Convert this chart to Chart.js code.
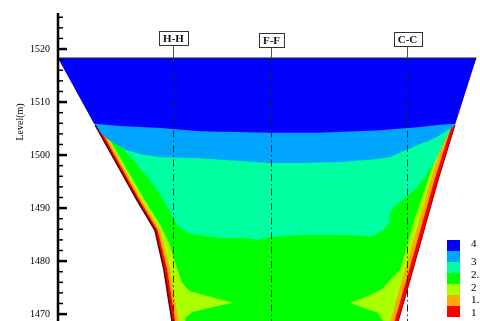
<!DOCTYPE html>
<html>
<head>
<meta charset="utf-8">
<style>
  html, body { margin: 0; padding: 0; background: #fff; }
  canvas { display: block; }
</style>
<script src="https://cdn.jsdelivr.net/npm/chart.js@4/dist/chart.umd.min.js"></script>
</head>
<body>
<canvas id="chart" width="480" height="321"></canvas>
<script>
// level axis (m)
const levelTicks = [1470, 1480, 1490, 1500, 1510, 1520];
const levelMin = 1468.7;
const levelMax = 1526.8;
const xMax = 79.6; // horizontal distance across the section (m)

// reservoir water surface
const waterLevel = 1518.3;

// cross sections shown on the profile
const sectionNames = ['H-H', 'F-F', 'C-C'];
const sectionX = [21.7, 40.2, 65.8];

// contour legend
const legendValues = ['4', '3', '2.5', '2', '1.5', '1'];
const bandColors = ['#0000ff', '#00a5ff', '#00ffa0', '#00ff00', '#aaff00', '#ffaa00', '#ff0000'];

// band outlines, each one painted under the band listed after it
// valley (red band, full section)
const redX = [0, 7.0, 14.9, 18.3, 20.0, 21.5, 21.9, 63.4, 64.2, 66.4, 71.7, 74.9, 78.9];
const redLevel = [1518.3, 1505.7, 1491.5, 1485.8, 1478.3, 1468.7, 1466.0, 1466.0, 1468.7, 1476.4, 1495.3, 1505.7, 1518.3];

const orangeX = [0.6, 7.5, 15.4, 18.8, 20.6, 22.1, 22.5, 62.7, 63.5, 65.7, 71.0, 74.3, 78.3];
const orangeLevel = redLevel;

const yellowX = [1.0, 7.9, 15.8, 19.3, 21.2, 22.7, 23.1, 61.9, 62.7, 64.9, 70.3, 73.6, 77.6];
const yellowLevel = redLevel;

const greenX = [1.1, 8.1, 16.4, 19.3, 21.1, 22.1, 23.4, 24.9, 29.1, 33.0, 29.1, 25.3, 24.0, 24.0,
                61.9, 61.3, 60.4, 57.4, 55.1, 57.9, 61.1, 63.0, 64.5, 67.2, 69.8, 73.2, 77.2];
const greenLevel = [1518.3, 1505.7, 1491.5, 1486.8, 1483.0, 1479.8, 1475.9, 1474.3, 1473.2, 1472.1, 1471.3, 1470.4, 1469.2, 1466.0,
                    1466.0, 1468.7, 1470.2, 1471.3, 1472.1, 1473.2, 1474.7, 1476.8, 1478.3, 1487.7, 1495.3, 1505.7, 1518.3];

const aquaX = [0.8, 77.7, 74.2, 73.0, 71.3, 69.3, 67.6, 65.5, 63.6, 62.5, 62.6, 61.5, 59.3, 53.2, 45.7, 40.0, 37.7,
               35.9, 31.5, 27.7, 24.5, 22.6, 21.1, 19.3, 17.0, 14.5, 12.1, 9.8, 8.1];
const aquaLevel = [1518.3, 1518.3, 1505.1, 1502.8, 1499.1, 1495.9, 1493.8, 1491.9, 1490.4, 1488.9, 1487.4, 1485.9, 1484.7, 1484.9, 1484.9, 1484.5, 1484.0,
                   1484.3, 1484.3, 1484.7, 1485.3, 1486.6, 1489.3, 1492.5, 1495.7, 1498.7, 1501.3, 1503.4, 1505.1];

const lightBlueX = [0.4, 78.5, 74.9, 74.5, 73.4, 72.1, 70.2, 68.3, 65.5, 62.6, 58.9, 53.2, 45.7, 40.0, 34.3,
                    26.8, 19.3, 15.5, 13.0, 10.8, 9.1, 7.9, 7.4];
const lightBlueLevel = [1518.3, 1518.3, 1505.9, 1505.3, 1504.7, 1503.8, 1502.8, 1502.1, 1500.9, 1499.6, 1499.1, 1498.7, 1498.5, 1498.5, 1498.9,
                        1499.4, 1499.6, 1500.2, 1500.9, 1502.1, 1503.2, 1504.3, 1505.1];

const blueX = [0, 78.9, 74.9, 72.1, 68.3, 60.8, 49.4, 40.0, 26.8, 19.3, 11.7, 6.8];
const blueLevel = [1518.3, 1518.3, 1505.9, 1505.7, 1505.3, 1504.7, 1504.2, 1504.2, 1504.5, 1505.1, 1505.5, 1505.9];

const points = (xs, ys) => xs.map((x, i) => ({ x: x, y: ys[i] }));

function band(xs, ys, color) {
    return {
        data: points(xs, ys),
        backgroundColor: color,
        borderWidth: 0,
        pointRadius: 0,
        tension: 0,
        fill: 'shape'
    };
}

function edge(xs, ys, color, width) {
    return {
        data: points(xs, ys),
        borderColor: color,
        borderWidth: width,
        pointRadius: 0,
        tension: 0,
        fill: false,
        order: -1
    };
}

const datasets = [
    band(blueX, blueLevel, bandColors[0]),
    band(lightBlueX, lightBlueLevel, bandColors[1]),
    band(aquaX, aquaLevel, bandColors[2]),
    band(greenX, greenLevel, bandColors[3]),
    band(yellowX, yellowLevel, bandColors[4]),
    band(orangeX, orangeLevel, bandColors[5]),
    band(redX, redLevel, bandColors[6]),
    // water surface and rock walls
    edge([0, 78.9], [waterLevel, waterLevel], '#1a1a60', 1.2),
    edge(redX.slice(1, 7), redLevel.slice(1, 7), '#5a0000', 1.6),
    edge(redX.slice(7, 12), redLevel.slice(7, 12), '#a00000', 1)
];

const serif = 'Liberation Serif';

// axis, section marks and legend
const extras = {
    id: 'extras',
    afterDatasetsDraw(chart) {
        const ctx = chart.ctx;
        const xs = chart.scales.x;
        const ys = chart.scales.y;
        const area = chart.chartArea;
        const ax = area.left;
        ctx.save();

        // vertical axis with inward ticks
        ctx.strokeStyle = '#000';
        ctx.lineWidth = 2.5;
        ctx.beginPath();
        ctx.moveTo(ax, area.top);
        ctx.lineTo(ax, area.bottom);
        ctx.stroke();
        for (let v = 1470; v <= levelMax; v += 2) {
            const y = ys.getPixelForValue(v);
            const major = levelTicks.includes(v);
            ctx.lineWidth = major ? 2.5 : 1.5;
            ctx.beginPath();
            ctx.moveTo(ax, y);
            ctx.lineTo(ax + (major ? 9 : 5), y);
            ctx.stroke();
        }

        // axis title
        ctx.save();
        ctx.translate(20, 122);
        ctx.rotate(-Math.PI / 2);
        ctx.font = '10px "' + serif + '"';
        ctx.fillStyle = '#000';
        ctx.textAlign = 'center';
        ctx.textBaseline = 'middle';
        ctx.fillText('Level(m)', 0, 0);
        ctx.restore();

        // section lines and their tags
        const boxTop = [31, 33, 32];
        const yWater = ys.getPixelForValue(waterLevel);
        ctx.font = 'bold 11px "' + serif + '"';
        ctx.textAlign = 'center';
        ctx.textBaseline = 'middle';
        sectionNames.forEach((name, i) => {
            const x = Math.round(xs.getPixelForValue(sectionX[i])) + 0.5;
            const w = ctx.measureText(name).width + 8;
            const h = 14;
            const top = boxTop[i];
            ctx.strokeStyle = '#555';
            ctx.lineWidth = 1;
            ctx.setLineDash([]);
            ctx.beginPath();
            ctx.moveTo(x, top + h);
            ctx.lineTo(x, yWater);
            ctx.stroke();
            ctx.strokeStyle = '#222';
            ctx.setLineDash([7, 3, 1.5, 3]);
            ctx.beginPath();
            ctx.moveTo(x, yWater);
            ctx.lineTo(x, area.bottom);
            ctx.stroke();
            ctx.setLineDash([]);
            ctx.fillStyle = '#fff';
            ctx.fillRect(Math.round(x - w / 2), top, Math.round(w), h);
            ctx.strokeStyle = '#333';
            ctx.strokeRect(Math.round(x - w / 2) + 0.5, top + 0.5, Math.round(w), h);
            ctx.fillStyle = '#111';
            ctx.fillText(name, x, top + h / 2 + 1);
        });

        // legend
        const lx = 447, lw = 13;
        const lTop = 240, lh = 11;
        bandColors.forEach((c, i) => {
            ctx.fillStyle = c;
            ctx.fillRect(lx, lTop + i * lh, lw, lh);
        });
        ctx.font = '11px "' + serif + '"';
        ctx.fillStyle = '#000';
        ctx.textAlign = 'left';
        ctx.textBaseline = 'middle';
        const labelY = [244, 262, 275, 288, 300, 313];
        legendValues.forEach((t, i) => {
            ctx.fillText(t, 471, labelY[i]);
        });

        ctx.restore();
    }
};

new Chart(document.getElementById('chart'), {
    type: 'line',
    data: { datasets: datasets },
    options: {
        responsive: false,
        animation: false,
        devicePixelRatio: 1,
        layout: { padding: { top: 13, left: 0, right: 0, bottom: 0 } },
        plugins: {
            legend: { display: false },
            tooltip: { enabled: false }
        },
        scales: {
            x: { type: 'linear', min: 0, max: xMax, display: false },
            y: {
                type: 'linear',
                min: levelMin,
                max: levelMax,
                grid: { display: false, drawTicks: false },
                border: { display: false },
                ticks: {
                    font: { family: serif, size: 10 },
                    color: '#000',
                    padding: 8,
                    callback: v => String(v)
                },
                afterBuildTicks: s => { s.ticks = levelTicks.map(v => ({ value: v })); },
                afterFit: s => { s.width = 58; s.paddingTop = 0; s.paddingBottom = 0; }
            }
        }
    },
    plugins: [extras]
});
</script>
</body>
</html>
